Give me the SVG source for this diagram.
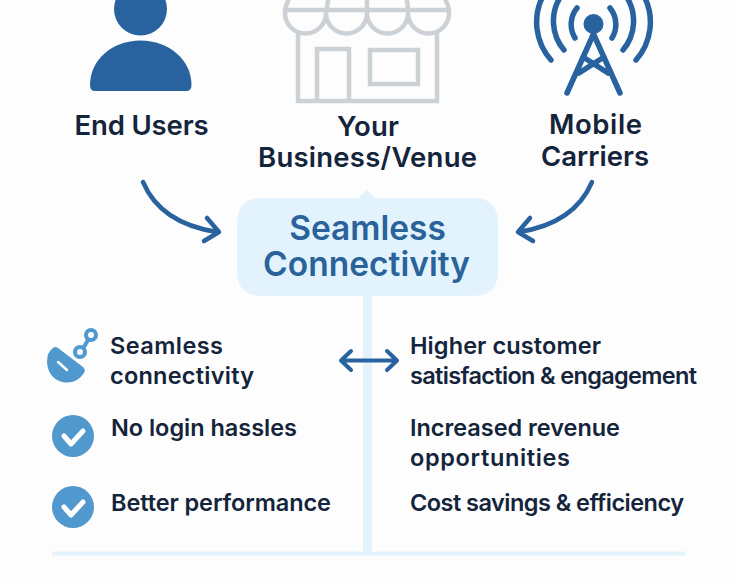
<svg xmlns="http://www.w3.org/2000/svg" width="736" height="584" viewBox="0 0 736 584">
<defs>
<style>
text{font-family:"Inter","Liberation Sans",sans-serif;font-weight:600;fill:#14243a}
.h{font-size:27.500px;text-anchor:middle}
.b{font-size:23.500px}
.c{font-size:33.500px;fill:#2a6399;text-anchor:middle}
.blue{fill:none;stroke:#28639f;stroke-linecap:round;stroke-linejoin:round}
.gray{fill:none;stroke:#ccd1d6;stroke-width:4.500}
.tick{fill:none;stroke:#fff;stroke-width:5;stroke-linecap:round;stroke-linejoin:round}
.ring{fill:none;stroke:#5198cf;stroke-width:4}
</style>
</defs>
<rect width="736" height="584" fill="#fdfdfe"/>
<g id="connectors">
<path d="M367.500 296V553" fill="none" stroke="#e3f3fd" stroke-width="9"/>
<path d="M52 553.500H685" fill="none" stroke="#e3f3fd" stroke-width="4"/>
<path class="blue" stroke-width="4.500" d="M143 182C154 208 178 226 217 232M207 218L219 232L204 241"/>
<path class="blue" stroke-width="4.500" d="M592 182C581 208 557 226 519 232M530 218L518 232L533 241"/>
<path class="blue" stroke-width="4" d="M343 360.500H395M351 351L341 360.500L351 370M387 351L397 360.500L387 370"/>
</g>
<g id="end-users">
<circle cx="140.500" cy="9" r="26.500" fill="#28639f"/>
<path d="M90 85C90 60 112 40.500 140.500 40.500S191.500 60 191.500 85Q191.500 91 186 91H95Q90 91 90 85Z" fill="#28639f"/>
<text class="h" x="141.500" y="135" textLength="134">End Users</text>
</g>
<g id="venue">
<path class="gray" d="M285 10H449M298 32V101H437V32M317 101V49H349V101M370 50H418V84H370Z"/>
<path class="gray" d="M285 10V13A20.500 20.500 0 0 0 326 13V10M326 13A20.500 20.500 0 0 0 367 13V10M367 13A20.500 20.500 0 0 0 408 13V10M408 13A20.500 20.500 0 0 0 449 13V10"/>
<path class="gray" d="M285 10Q286 4 290 -3M327 10Q327 4 329 -3M367 10V-3M408 10Q408 4 406 -3M449 10Q448 4 444 -3"/>
<text class="h" x="368" y="136" textLength="62">Your</text>
<text class="h" x="367.500" y="167" textLength="219">Business/Venue</text>
</g>
<g id="mobile-carriers">
<circle cx="593.500" cy="24" r="10" fill="#28639f"/>
<path class="blue" stroke-width="5.500" d="M593.500 34 567 93M593.500 34 620 93M583 57 608 73M604 57 579 73"/>
<path class="blue" stroke-width="5.500" d="M575 38A26 26 0 0 1 577 8M612 38A26 26 0 0 0 610 8M564 50A45 45 0 0 1 561 -4M623 50A45 45 0 0 0 626 -4M551 60A57 57 0 0 1 543 -4M636 60A57 57 0 0 0 644 -4"/>
<text class="h" x="595.500" y="134" textLength="93">Mobile</text>
<text class="h" x="595" y="166" textLength="108">Carriers</text>
</g>
<g id="seamless-connectivity">
<path d="M237 223Q237 198 262 198H358L367 190L376 198H473Q498 198 498 223V271Q498 296 473 296H262Q237 296 237 271Z" fill="#e3f3fd"/>
<text class="c" x="367.500" y="240">Seamless</text>
<text class="c" x="366.500" y="276" textLength="207">Connectivity</text>
</g>
<g id="left-list">
<path d="M53 348Q55 346 58 348L83 367Q86 370 84 373 76 385 62 382 48 378 47 362 47 352 53 348Z" fill="#5198cf"/>
<path d="M58 362 67 370" stroke="#fff" stroke-width="2.500" stroke-linecap="round"/>
<circle class="ring" cx="80" cy="352" r="5"/>
<circle class="ring" cx="91" cy="335" r="5"/>
<path d="M84 347 88 340" stroke="#5198cf" stroke-width="4"/>
<text class="b" x="110" y="354" textLength="113">Seamless</text>
<text class="b" x="110" y="384" textLength="144">connectivity</text>
<circle cx="73" cy="436" r="21" fill="#5198cf"/>
<path class="tick" d="M64 436 71 444 83 431"/>
<text class="b" x="111" y="436" textLength="186">No login hassles</text>
<circle cx="73" cy="507" r="21" fill="#5198cf"/>
<path class="tick" d="M64 507 71 515 83 502"/>
<text class="b" x="111" y="511" textLength="220">Better performance</text>
</g>
<g id="right-list">
<text class="b" x="410" y="354" textLength="191">Higher customer</text>
<text class="b" x="410" y="384" textLength="287">satisfaction &amp; engagement</text>
<text class="b" x="410" y="436" textLength="210">Increased revenue</text>
<text class="b" x="410" y="466" textLength="160">opportunities</text>
<text class="b" x="410" y="511" textLength="274">Cost savings &amp; efficiency</text>
</g>
</svg>
